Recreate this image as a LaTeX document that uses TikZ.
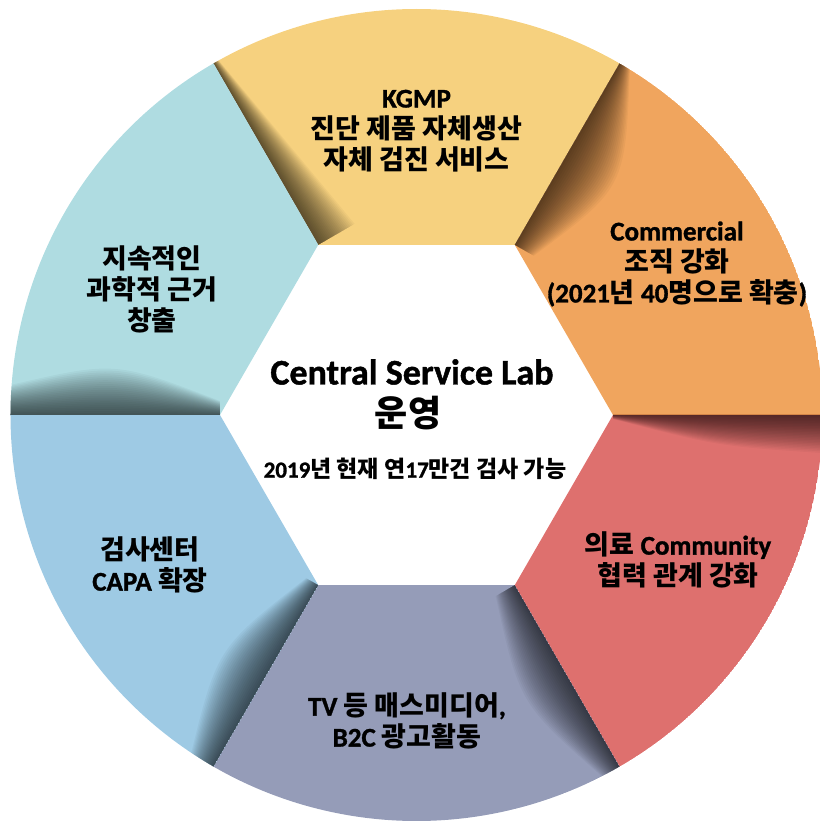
\documentclass[tikz,border=0pt]{standalone}
\usepackage{fontspec}
\setmainfont{Noto Sans CJK KR}
\newfontfamily\en{Carlito}[Extension=.ttf, UprightFont=*-Bold, BoldFont=*-Bold, FakeBold=1.2]
\usetikzlibrary{positioning,calc}
\definecolor{segyellow}{HTML}{F6D17F}
\definecolor{segorange}{HTML}{F0A55E}
\definecolor{segred}{HTML}{DE706E}
\definecolor{segslate}{HTML}{959CB8}
\definecolor{segblue}{HTML}{9ECAE4}
\definecolor{segcyan}{HTML}{AFDCE1}
\tikzset{
  seglabel/.style={align=center, inner sep=0pt, font=\bfseries\fontsize{27}{31}\selectfont},
  hubtitle/.style={align=center, inner sep=0pt, font=\bfseries\fontsize{36}{40}\selectfont},
  hubnote/.style={align=center, inner sep=0pt, font=\bfseries\fontsize{23}{26}\selectfont},
  shadowband/.style={fill=black, fill opacity=0.035}
}

\begin{document}
\begin{tikzpicture}[x=1pt, y=1pt]
  \useasboundingbox (-416.5,-406) rectangle (402.5,415);
  \def\rin{196.5}
  \def\rout{406}
  % six ring segments around the hexagon, each with a soft shadow on its left edge
  \foreach \ang/\col/\wa/\wb/\wc in {90/segyellow/42/24/6, 30/segorange/22/42/12,
      -30/segred/4/26/38, -90/segslate/22/38/20, -150/segblue/14/38/26, 150/segcyan/14/38/30} {
    \begin{scope}
      \clip (\ang-30:\rin) -- (\ang-30:\rout) arc[start angle=\ang-30, end angle=\ang+30, radius=\rout]
        -- (\ang+30:\rin) -- cycle;
      \fill[\col] (0,0) circle (\rout);
      \foreach \k in {1,...,24} {
        \fill[shadowband] (\ang+30:\rin) -- (\ang+30:\rout)
          -- ($(\ang+30:\rout)+(\ang-60:\wc*\k/24)$)
          .. controls ($(\ang+30:301.25)+(\ang-60:{(2*\wb-(\wa+\wc)/2)*\k/24})$)
          .. ($(\ang+30:\rin)+(\ang-60:\wa*\k/24)$) -- cycle;
      }
    \end{scope}
  }

  \node[seglabel] (kgmp) at (0,284) {{\en KGMP}\\진단 제품 자체생산\\자체 검진 서비스};
  \node[seglabel] (science) at (-264.5,126) {지속적인\\과학적 근거\\창출};
  \node[seglabel] (commercial) at (260.5,151) {{\en Commercial}\\조직 강화\\{\en(2021}년 {\en 40}명으로 확충{\en)}};
  \node[seglabel] (community) at (261.5,-145) {의료 {\en Community}\\협력 관계 강화};
  \node[seglabel] (media) at (-9.5,-306) {{\en TV} 등 매스미디어{\en,}\\{\en B2C} 광고활동};
  \node[seglabel] (capa) at (-266.5,-150) {검사센터\\{\en CAPA} 확장};

  \node[hubtitle] (lab) at (-4.5,43) {\en Central Service Lab};
  \node[hubtitle] (run) at (-8.5,2) {운영};
  \node[hubnote] (volume) at (-1.5,-54) {{\en 2019}년 현재 연{\en 17}만건 검사 가능};
\end{tikzpicture}
\end{document}
